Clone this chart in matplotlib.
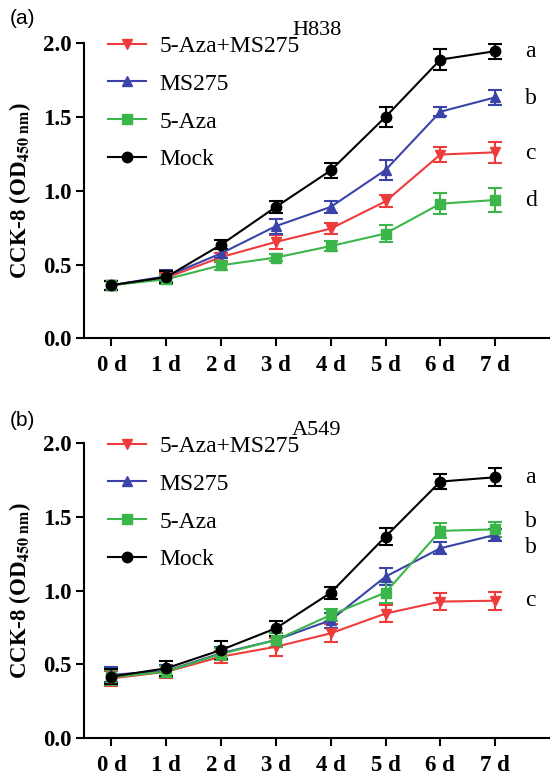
import matplotlib
matplotlib.use("Agg")
import matplotlib.pyplot as plt
from matplotlib.lines import Line2D

plt.rcParams['font.family'] = 'serif'
plt.rcParams['font.serif'] = ['Liberation Serif', 'DejaVu Serif']
plt.rcParams['mathtext.fontset'] = 'stix'

days = [0, 1, 2, 3, 4, 5, 6, 7]
day_labels = ['0 d', '1 d', '2 d', '3 d', '4 d', '5 d', '6 d', '7 d']
series_names = ['5-Aza+MS275', 'MS275', '5-Aza', 'Mock']

# H838
h838_combo = [0.36, 0.41, 0.55, 0.653, 0.743, 0.928, 1.245, 1.26]
h838_combo_err = [0.03, 0.03, 0.03, 0.045, 0.035, 0.04, 0.05, 0.07]
h838_ms275 = [0.36, 0.42, 0.575, 0.76, 0.89, 1.14, 1.535, 1.632]
h838_ms275_err = [0.03, 0.04, 0.03, 0.05, 0.04, 0.07, 0.03, 0.05]
h838_aza = [0.36, 0.40, 0.495, 0.547, 0.625, 0.71, 0.912, 0.937]
h838_aza_err = [0.03, 0.03, 0.03, 0.025, 0.035, 0.06, 0.07, 0.08]
h838_mock = [0.36, 0.415, 0.634, 0.89, 1.137, 1.50, 1.888, 1.945]
h838_mock_err = [0.03, 0.04, 0.03, 0.04, 0.05, 0.07, 0.07, 0.05]
h838_letters = ['c', 'b', 'd', 'a']
h838_letter_y = [1.252, 1.625, 0.935, 1.94]

# A549
a549_combo = [0.406, 0.45, 0.553, 0.62, 0.711, 0.845, 0.926, 0.932]
a549_combo_err = [0.05, 0.04, 0.04, 0.06, 0.06, 0.06, 0.06, 0.06]
a549_ms275 = [0.43, 0.456, 0.576, 0.666, 0.80, 1.095, 1.287, 1.378]
a549_ms275_err = [0.05, 0.04, 0.04, 0.05, 0.05, 0.06, 0.04, 0.04]
a549_aza = [0.413, 0.452, 0.571, 0.666, 0.835, 0.987, 1.405, 1.415]
a549_aza_err = [0.05, 0.04, 0.04, 0.05, 0.04, 0.07, 0.05, 0.05]
a549_mock = [0.418, 0.474, 0.598, 0.745, 0.986, 1.366, 1.739, 1.768]
a549_mock_err = [0.05, 0.05, 0.06, 0.05, 0.04, 0.06, 0.05, 0.06]
a549_letters = ['c', 'b', 'b', 'a']
a549_letter_y = [0.935, 1.29, 1.468, 1.768]

colors = ['#ee3b3b', '#3a44a8', '#3cb54a', '#000000']
markers = ['v', '^', 's', 'o']

fig = plt.figure(figsize=(5.5, 7.76), dpi=100)
ax_top = fig.add_axes([0.1527, 0.564, 0.8473, 0.3805])
ax_bot = fig.add_axes([0.1527, 0.0486, 0.8473, 0.3805])


def draw_panel(ax, data, errs, letters, letter_y, title):
    handles = []
    for vals, err, c, m, name in zip(data, errs, colors, markers, series_names):
        ax.errorbar(days, vals, yerr=err, color=c, marker=m, ms=7.5,
                    lw=1.5, elinewidth=1.5, capsize=5, capthick=1.5)
        handles.append(Line2D([], [], color=c, marker=m, ms=7.5, lw=1.5, label=name))
    for lt, ly in zip(letters, letter_y):
        ax.text(7.55, ly, lt, fontsize=17, va='center', ha='left')
    ax.set_xlim(-0.5, 8.0)
    ax.set_ylim(0, 2.0)
    ax.set_xticks(days)
    ax.set_xticklabels(day_labels, fontweight='bold')
    ax.set_yticks([0.0, 0.5, 1.0, 1.5, 2.0])
    ax.set_yticklabels(['0.0', '0.5', '1.0', '1.5', '2.0'], fontweight='bold')
    ax.tick_params(labelsize=16.5, width=1.5, length=6, direction='out', pad=3)
    ax.tick_params(axis='x', pad=6)
    for s in ['top', 'right']:
        ax.spines[s].set_visible(False)
    for s in ['left', 'bottom']:
        ax.spines[s].set_linewidth(1.5)
    ax.set_ylabel(r'CCK-8 (OD$_{\mathbf{450\ nm}}$)', fontsize=16.5, fontweight='bold')
    ax.yaxis.set_label_coords(-0.11, 0.5)
    ax.set_title(title, fontsize=16, pad=6)
    ax.legend(handles=handles, loc='upper left', bbox_to_anchor=(0.031, 1.058),
              frameon=False, fontsize=17, handlelength=1.6, handletextpad=0.6,
              labelspacing=0.69, borderaxespad=0)


draw_panel(ax_top, [h838_combo, h838_ms275, h838_aza, h838_mock],
           [h838_combo_err, h838_ms275_err, h838_aza_err, h838_mock_err],
           h838_letters, h838_letter_y, 'H838')
draw_panel(ax_bot, [a549_combo, a549_ms275, a549_aza, a549_mock],
           [a549_combo_err, a549_ms275_err, a549_aza_err, a549_mock_err],
           a549_letters, a549_letter_y, 'A549')

fig.text(0.018, 0.988, '(a)', fontsize=15, family='Liberation Sans', va='top')
fig.text(0.018, 0.471, '(b)', fontsize=15, family='Liberation Sans', va='top')

fig.savefig('out.png', dpi=100)
